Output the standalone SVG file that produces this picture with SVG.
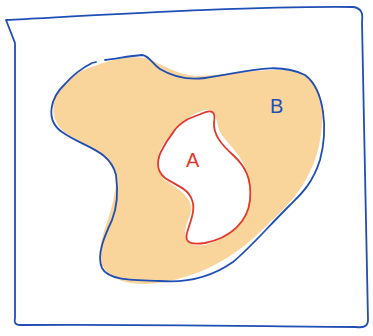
<svg xmlns="http://www.w3.org/2000/svg" width="373" height="336" viewBox="0 0 373 336">
<style>
.blue{fill:none;stroke:#1f4fb5;stroke-width:1.8;stroke-linecap:round;stroke-linejoin:round}
.red{fill:none;stroke:#e5372a;stroke-width:1.8;stroke-linecap:round;stroke-linejoin:round}
.lbl{font-family:"Liberation Sans",sans-serif;font-size:20px}
</style>
<rect width="373" height="336" fill="#ffffff"/>
<g id="frame">
<path class="blue" d="M15,43 L6,20 C120,14 250,6 353,7 C362,8 363,14 362,22 C364,120 366,230 368,320 C368,326 364,328 356,327 C240,326 120,324 20,325 C15,325 14,322 15,318 C15,230 15,120 15,43 L13,38"/>
</g>
<g id="B">
<path d="M95,66 C115,58 132,56 145,58 C160,62 168,72 195,76 C225,76 270,66 300,72 C322,80 326,110 320,140 C314,175 295,200 270,222 C245,248 215,272 165,282 C130,288 104,280 100,258 C98,235 116,210 116,178 C112,152 80,145 62,130 C48,115 52,95 68,80 C80,70 88,68 95,66 Z" fill="#fad59b"/>
<path class="blue" d="M105,60 C120,58 130,56 142,55 C150,56 152,64 160,69 C175,78 190,80 205,78 C240,74 275,60 305,75 C325,90 328,130 320,160 C312,185 300,195 290,205 C265,230 250,248 233,262 C210,278 185,283 160,281 C130,280 108,280 102,268 C96,255 105,235 112,220 C118,205 118,190 116,175 C110,150 85,148 62,132 C45,120 50,98 65,84 C72,76 82,68 92,63 L96,62"/>
<text class="lbl" x="270" y="113" fill="#1f4fb5" font-size="22">B</text>
</g>
<g id="A">
<path d="M205,110 C220,108 214,125 222,135 C235,152 252,165 250,195 C248,220 230,238 205,245 C182,248 182,232 190,215 C196,200 180,190 165,180 C152,168 158,148 168,138 C180,122 192,113 205,110 Z" fill="#ffffff"/>
<path class="red" d="M203,113 C212,109 216,112 214,122 C213,135 222,145 233,155 C245,166 252,178 250,200 C248,222 230,238 205,243 C192,245 184,243 187,233 C190,222 196,210 192,200 C188,188 175,185 165,178 C155,170 157,158 163,148 C168,138 172,135 174,131 C178,125 183,122 188,119 C195,116 199,115 203,113 Z"/>
<text class="lbl" x="186" y="167" fill="#e5372a">A</text>
</g>
</svg>
